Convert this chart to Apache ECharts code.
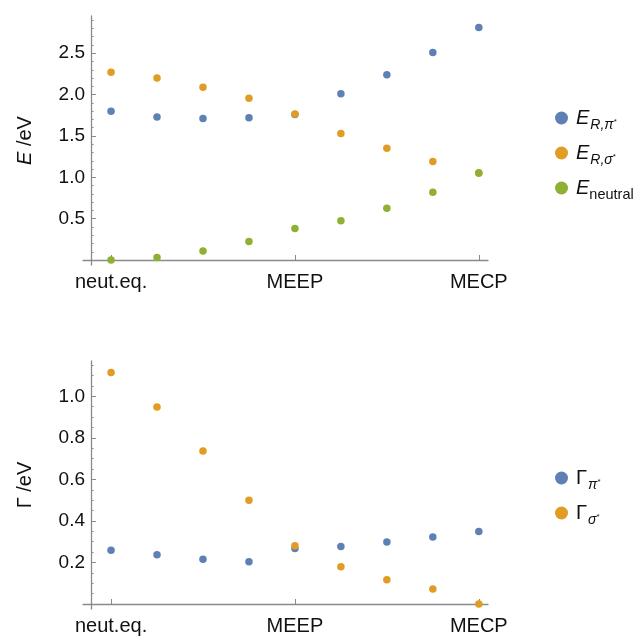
<!DOCTYPE html>
<html>
<head>
<meta charset="utf-8">
<script src="https://cdn.jsdelivr.net/npm/echarts@6/dist/echarts.min.js"></script>
<style>
  html, body { margin: 0; padding: 0; background: #fff; }
  #chart { width: 637px; height: 636px; }
</style>
</head>
<body>
<div id="chart"></div>
<script>
// geometry index of each point along the path
const steps = [0, 1, 2, 3, 4, 5, 6, 7, 8];
const tickPos = [0, 4, 8];
const tickNames = ['neut.eq.', 'MEEP', 'MECP'];

// top panel, energies in eV
const eRPi = [1.80, 1.73, 1.71, 1.72, 1.76, 2.01, 2.24, 2.51, 2.81];
const eRSigma = [2.27, 2.20, 2.09, 1.955, 1.765, 1.53, 1.35, 1.19, 1.05];
const eNeutral = [0.0, 0.03, 0.11, 0.225, 0.38, 0.475, 0.625, 0.82, 1.055];
const eMajor = [0.5, 1.0, 1.5, 2.0, 2.5];
const eMinor = [0.1, 0.2, 0.3, 0.4, 0.6, 0.7, 0.8, 0.9, 1.1, 1.2, 1.3, 1.4,
  1.6, 1.7, 1.8, 1.9, 2.1, 2.2, 2.3, 2.4, 2.6, 2.7, 2.8, 2.9];

// bottom panel, widths in eV
const gPi = [0.259, 0.237, 0.216, 0.203, 0.267, 0.277, 0.299, 0.323, 0.349];
const gSigma = [1.115, 0.948, 0.737, 0.50, 0.28, 0.179, 0.117, 0.072, 0.0];
const gMajor = [0.2, 0.4, 0.6, 0.8, 1.0];
const gMinor = [0.05, 0.1, 0.15, 0.25, 0.3, 0.35, 0.45, 0.5, 0.55, 0.65, 0.7, 0.75,
  0.85, 0.9, 0.95, 1.05, 1.1, 1.15];

const BLUE = '#5E81B5', ORANGE = '#E19C24', GREEN = '#8FB032';
const FONT = 'Liberation Sans';
const AXIS = '#8a8a8a';

const legendText = {
  'E_R,pi': '{i|E}{s|R,π}{st|*}',
  'E_R,sigma': '{i|E}{s|R,σ}{st|*}',
  'E_neutral': '{i|E}{n|neutral}',
  'G_pi': '{g|Γ}{s|π}{st|*}',
  'G_sigma': '{g|Γ}{s|σ}{st|*}'
};

const legendRich = {
  i: { fontFamily: FONT, fontStyle: 'italic', fontSize: 20, lineHeight: 20, verticalAlign: 'top', padding: [0, 0, 0, 3], color: '#111' },
  g: { fontFamily: FONT, fontSize: 20, lineHeight: 20, verticalAlign: 'top', padding: [0, 0, 0, 3], color: '#111' },
  s: { fontFamily: FONT, fontStyle: 'italic', fontSize: 14, lineHeight: 14, verticalAlign: 'top', padding: [10, 0, 0, 1], color: '#111' },
  n: { fontFamily: FONT, fontSize: 14.5, lineHeight: 15, verticalAlign: 'top', padding: [9, 0, 0, 0], color: '#111' },
  st: { fontFamily: FONT, fontSize: 8, lineHeight: 8, verticalAlign: 'top', padding: [10, 0, 0, 0], color: '#111' }
};

function pts(arr) {
  return arr.map((v, i) => [steps[i], v]);
}

function xAxisFor(gridIndex) {
  return {
    type: 'value',
    gridIndex: gridIndex,
    min: -0.61,
    max: 8.2,
    axisLine: { show: true, onZero: true, lineStyle: { color: AXIS, width: 1.3 } },
    axisTick: { show: true, inside: true, length: 5, customValues: tickPos, lineStyle: { color: AXIS } },
    axisLabel: {
      customValues: tickPos,
      formatter: v => tickNames[tickPos.indexOf(v)] || '',
      fontFamily: FONT, fontSize: 20, color: '#111', margin: 7
    },
    splitLine: { show: false }
  };
}

function yAxisFor(gridIndex, min, max, major, nameText) {
  return {
    type: 'value',
    gridIndex: gridIndex,
    position: 'left',
    min: min,
    max: max,
    offset: -8,
    name: nameText,
    nameLocation: 'middle',
    nameRotate: 90,
    nameGap: 56,
    nameTextStyle: {
      fontFamily: FONT, fontSize: 20, color: '#111',
      rich: { i: { fontFamily: FONT, fontSize: 20, fontStyle: 'italic', color: '#111' } }
    },
    axisLine: { show: true, onZero: false, lineStyle: { color: AXIS, width: 1.3 } },
    axisTick: { show: true, inside: true, length: 5, customValues: major, lineStyle: { color: AXIS } },
    axisLabel: {
      customValues: major,
      formatter: v => v.toFixed(1),
      fontFamily: FONT, fontSize: 19, color: '#111', margin: 6
    },
    splitLine: { show: false }
  };
}

function minorAxisFor(gridIndex, min, max, minor) {
  return {
    type: 'value',
    gridIndex: gridIndex,
    position: 'left',
    min: min,
    max: max,
    offset: -8,
    axisLine: { show: false, onZero: false },
    axisTick: { show: true, inside: true, length: 2.5, customValues: minor, lineStyle: { color: AXIS } },
    axisLabel: { show: false },
    splitLine: { show: false }
  };
}

function scatter(name, data, xi, yi, color) {
  return {
    name: name,
    type: 'scatter',
    xAxisIndex: xi,
    yAxisIndex: yi,
    data: pts(data),
    symbol: 'circle',
    symbolSize: 7.5,
    itemStyle: { color: color, opacity: 1 },
    clip: false
  };
}

const chart = echarts.init(document.getElementById('chart'));

const option = {
  animation: false,
  backgroundColor: '#fff',
  grid: [
    { left: 83, top: 16, width: 405, height: 249 },
    { left: 83, top: 361, width: 405, height: 249 }
  ],
  xAxis: [xAxisFor(0), xAxisFor(1)],
  yAxis: [
    yAxisFor(0, -0.06, 2.95, eMajor, '{i|E} /eV'),
    minorAxisFor(0, -0.06, 2.95, eMinor),
    yAxisFor(1, -0.024, 1.17, gMajor, 'Γ /eV'),
    minorAxisFor(1, -0.024, 1.17, gMinor)
  ],
  legend: [
    {
      data: ['E_R,pi', 'E_R,sigma', 'E_neutral'],
      orient: 'vertical',
      left: 550,
      top: 103,
      icon: 'circle',
      itemWidth: 13,
      itemHeight: 13,
      itemGap: 11,
      selectedMode: false,
      formatter: name => legendText[name],
      textStyle: { rich: legendRich }
    },
    {
      data: ['G_pi', 'G_sigma'],
      orient: 'vertical',
      left: 550,
      top: 463,
      icon: 'circle',
      itemWidth: 13,
      itemHeight: 13,
      itemGap: 11,
      selectedMode: false,
      formatter: name => legendText[name],
      textStyle: { rich: legendRich }
    }
  ],
  series: [
    scatter('E_R,pi', eRPi, 0, 0, BLUE),
    scatter('E_R,sigma', eRSigma, 0, 0, ORANGE),
    scatter('E_neutral', eNeutral, 0, 0, GREEN),
    scatter('G_pi', gPi, 1, 2, BLUE),
    scatter('G_sigma', gSigma, 1, 2, ORANGE)
  ]
};

chart.setOption(option);
</script>
</body>
</html>
